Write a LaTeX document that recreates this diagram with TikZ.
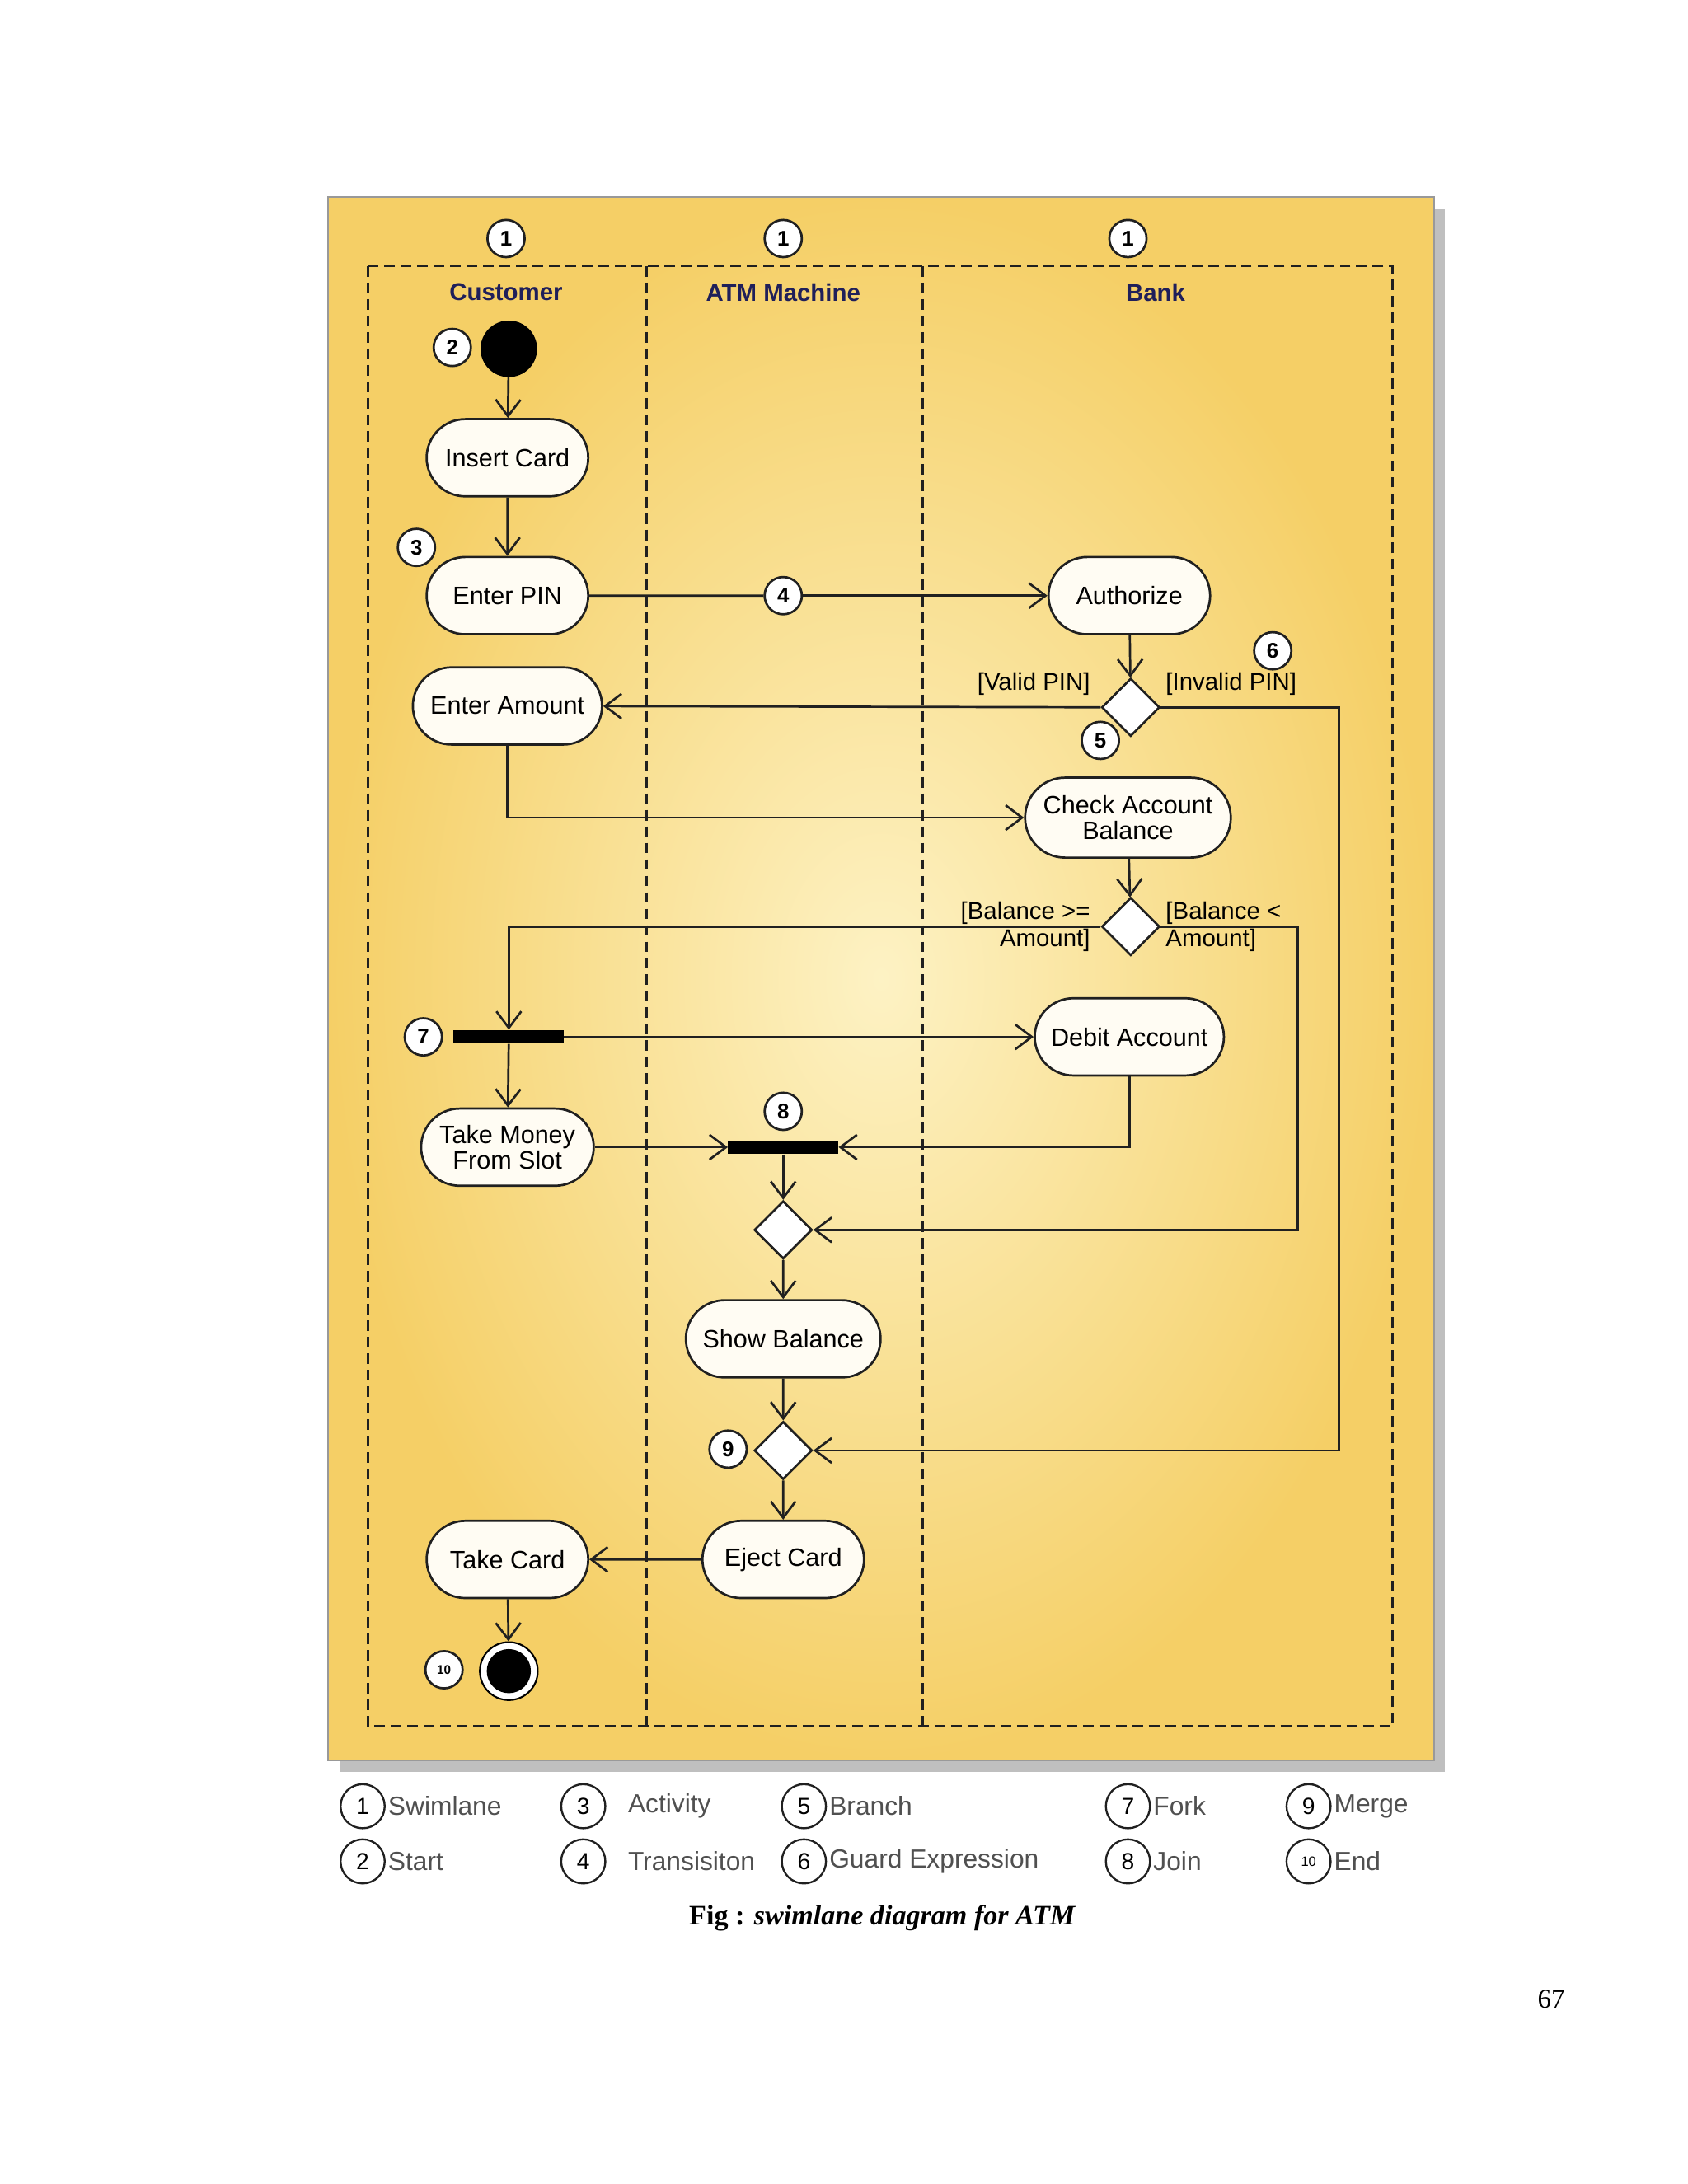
\documentclass[tikz,border=0pt]{standalone}
\usepackage{fontspec}
\setmainfont{Liberation Serif}
\newfontfamily\ssf{Liberation Sans}
\usetikzlibrary{shapes.misc,shapes.geometric,arrows.meta,calc}
\definecolor{lanetxt}{HTML}{1F1F5A}
\definecolor{legtxt}{HTML}{505050}
\definecolor{pin}{HTML}{FDF2C4}
\definecolor{pout}{HTML}{F5CF66}
\definecolor{lnc}{HTML}{202020}
\begin{document}
\begin{tikzpicture}[x=0.05cm,y=-0.05cm,
  every node/.style={font=\ssf\fontsize{26}{30}\selectfont},
  ln/.style={line width=2.3pt,draw=lnc},
  arr/.style={ln,-{Straight Barb[length=0.6cm,width=0.9cm,line width=2.3pt]}},
  act/.style={rounded rectangle,draw,ln,fill=white!80!pin,minimum height=2.8cm,inner sep=2pt,align=center,font=\ssf\fontsize{26}{26}\selectfont},
  dia/.style={diamond,draw,ln,fill=white,minimum width=2.1cm,minimum height=2.1cm,inner sep=0pt},
  bar/.style={rectangle,fill=black,minimum width=4cm,minimum height=0.5cm,inner sep=0pt},
  num/.style={circle,draw,ln,fill=white,minimum size=1.35cm,inner sep=0pt,font=\ssf\bfseries\fontsize{22}{22}\selectfont},
  leg/.style={circle,draw,line width=2pt,draw=lnc,minimum size=1.6cm,inner sep=0pt,font=\ssf\fontsize{24}{24}\selectfont},
  legt/.style={anchor=west,text=legtxt,font=\ssf\fontsize{27}{27}\selectfont},
  lane/.style={text=lanetxt,font=\ssf\bfseries\fontsize{25}{25}\selectfont},
  grd/.style={font=\ssf\fontsize{25}{28}\selectfont,align=left}]
\useasboundingbox (0,0) rectangle (1224,1584);
\fill[white] (0,0) rectangle (1224,1584);
% panel
\fill[gray!50] (246,151) rectangle (1048,1285);
\shade[inner color=pin,outer color=pout] (238,143) rectangle (1040,1277);
\draw[gray!80,line width=1.5pt] (238,143) rectangle (1040,1277);
% lanes
\draw[line width=2.6pt,dash pattern=on 11pt off 6pt,lnc] (267,193) rectangle (1010,1252);
\draw[line width=2.6pt,dash pattern=on 11pt off 6pt,lnc] (469,193) -- (469,1252) (669,193) -- (669,1252);
\node[lane] (lc) at (367,212) {Customer};
\node[lane] (la) at (568,212) {ATM Machine};
\node[lane] (lb) at (838,212) {Bank};
\node[num] (n1a) at (367,173) {1};
\node[num] (n1b) at (568,173) {1};
\node[num] (n1c) at (818,173) {1};
% nodes
\node[circle,fill=black,minimum size=2.05cm,inner sep=0pt] (start) at (369,253) {};
\node[num] (n2) at (328,252) {2};
\node[act,minimum width=6cm] (ins) at (368,332) {Insert Card};
\node[act,minimum width=6cm] (pin) at (368,432) {Enter PIN};
\node[num] (n3) at (302,397) {3};
\node[act,minimum width=6cm] (auth) at (819,432) {Authorize};
\node[num] (n4) at (568,432) {4};
\node[dia] (d1) at (820,513) {};
\node[num] (n5) at (798,537) {5};
\node[num] (n6) at (923,472) {6};
\node[grd,anchor=east] (gv) at (793,496) {[Valid PIN]};
\node[grd,anchor=west] (gi) at (843,496) {[Invalid PIN]};
\node[act,minimum width=7cm] (amt) at (368,512) {Enter Amount};
\node[act,minimum width=7.6cm,minimum height=2.9cm,font=\ssf\fontsize{26}{26}\selectfont] (chk) at (818,593) {Check Account\\Balance};
\node[dia] (d2) at (820,672) {};
\node[grd,anchor=east,align=right] (g1) at (793,672) {[Balance >=\\Amount]};
\node[grd,anchor=west] (g2) at (843,672) {[Balance <\\Amount]};
\node[bar] (fork) at (369,752) {};
\node[num] (n7) at (307,752) {7};
\node[act,minimum width=7cm] (deb) at (819,752) {Debit Account};
\node[act,minimum width=6.4cm] (take) at (368,832) {Take Money\\From Slot};
\node[bar] (join) at (568,832) {};
\node[num] (n8) at (568,806) {8};
\node[dia] (m1) at (568,892) {};
\node[act,minimum width=7.2cm] (show) at (568,971) {Show Balance};
\node[dia] (m2) at (568,1052) {};
\node[num] (n9) at (528,1051) {9};
\node[act,minimum width=6cm] (eject) at (568,1131) {Eject Card};
\node[act,minimum width=6cm] (tcard) at (368,1131) {Take Card};
\node[circle,draw,line width=1.8pt,fill=white,minimum size=2.1cm,inner sep=0pt] (end) at (369,1212) {};
\fill[black] (end) circle (0.8cm);
\node[num,font=\ssf\bfseries\fontsize{13}{13}\selectfont] (n10) at (322,1211) {10};
% edges
\draw[arr] (start) -- (ins);
\draw[arr] (ins) -- (pin);
\draw[ln] (pin) -- (n4);
\draw[arr] (n4) -- (auth);
\draw[arr] (auth) -- (d1);
\draw[arr] (d1.west) -- (amt);
\draw[arr] (amt.south) |- (chk.west);
\draw[arr] (chk) -- (d2);
\draw[arr] (d2.west) -| (fork.north);
\draw[arr] (fork.east) -- (deb.west);
\draw[arr] (fork) -- (take);
\draw[arr] (take.east) -- (join.west);
\draw[arr] (deb.south) |- (join.east);
\draw[arr] (join) -- (m1);
\draw[arr] (d2.east) -- (941,672) |- (m1.east);
\draw[arr] (m1) -- (show);
\draw[arr] (show) -- (m2);
\draw[arr] (d1.east) -- (971,513) |- (m2.east);
\draw[arr] (m2) -- (eject);
\draw[arr] (eject) -- (tcard);
\draw[arr] (tcard) -- (end);
% legend
\foreach \x/\y/\t [count=\i] in {263/1310/1,263/1350/2,423/1310/3,423/1350/4,583/1310/5,583/1350/6,818/1310/7,818/1350/8,949/1310/9}{
  \node[leg] (L\i) at (\x,\y) {\t};
}
\node[leg,font=\ssf\fontsize{14}{14}\selectfont] (L10) at (949,1350) {10};
\node[legt] (T1) at (279,1310) {Swimlane};
\node[legt] (T2) at (279,1350) {Start};
\node[legt] (T3) at (453,1310) {Activity};
\node[legt] (T4) at (453,1350) {Transisiton};
\node[legt] (T5) at (599,1310) {Branch};
\node[legt] (T6) at (599,1350) {Guard Expression};
\node[legt] (T7) at (834,1310) {Fork};
\node[legt] (T8) at (834,1350) {Join};
\node[legt] (T9) at (965,1310) {Merge};
\node[legt] (T10) at (965,1350) {End};
\node[font=\rmfamily\bfseries\fontsize{29}{29}\selectfont] (cap) at (640,1391) {Fig : \textit{swimlane diagram for ATM}};
\node[font=\rmfamily\fontsize{28}{28}\selectfont] (pg) at (1125,1450) {67};
\end{tikzpicture}
\end{document}
